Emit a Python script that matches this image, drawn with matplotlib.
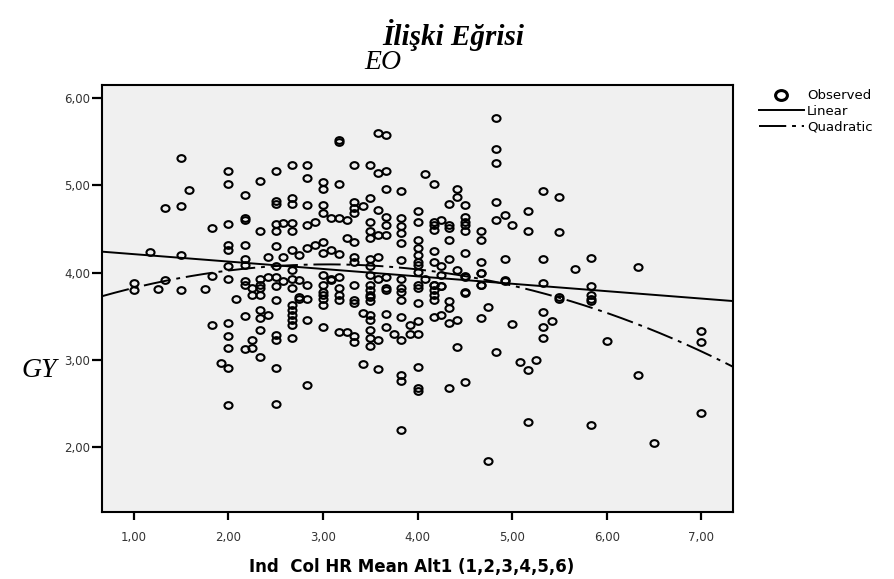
import numpy as np
import matplotlib
matplotlib.use("Agg")
import matplotlib.pyplot as plt
from matplotlib.lines import Line2D
from matplotlib.path import Path
from matplotlib.transforms import Affine2D

# observed points (x = Ind Col HR Mean Alt1, y = GY)
x_upper = [1.50, 2.00, 2.00, 1.58, 2.33, 2.17, 1.33, 1.50, 1.83, 2.00, 2.17, 2.17, 2.33, 1.17, 1.50,
           2.00, 2.00, 2.17, 2.17, 2.17, 2.00, 1.00, 1.00, 1.33, 1.25, 1.50, 1.75, 1.83, 2.00, 2.17,
           2.17, 2.25, 2.25, 2.33, 2.08]
y_upper = [5.31, 5.16, 5.02, 4.95, 5.05, 4.89, 4.74, 4.76, 4.51, 4.56, 4.60, 4.62, 4.48, 4.24, 4.20,
           4.32, 4.26, 4.32, 4.16, 4.09, 4.07, 3.88, 3.80, 3.91, 3.81, 3.80, 3.81, 3.96, 3.93, 3.90,
           3.86, 3.82, 3.74, 3.86, 3.70]

x_center = [3.58, 3.67, 3.17, 3.17, 2.50, 2.67, 2.83, 2.83, 3.33, 3.50, 3.58, 3.67, 3.00, 3.00, 3.17,
            3.67, 3.83, 2.50, 2.50, 2.67, 2.67, 2.83, 3.00, 3.00, 3.33, 3.33, 3.33, 3.50, 3.42, 3.58,
            3.67, 3.67, 3.83, 3.83, 3.83, 4.00, 4.00, 3.08, 3.17, 3.25, 2.92, 2.83, 2.50, 2.58, 2.67,
            2.50, 2.67, 3.50, 3.50, 3.50, 3.58, 3.25, 3.33, 3.67, 3.83, 4.00, 4.00, 2.50, 2.67, 2.83,
            2.92, 3.00, 3.08, 3.17, 3.00, 2.42, 2.58, 2.75, 3.33, 3.33, 3.50, 3.58, 3.83, 4.00, 2.33,
            2.42, 2.50, 2.50, 2.50, 2.58, 2.67, 2.67, 2.67, 2.75, 2.83, 3.00, 3.00, 3.08, 3.17, 3.17,
            3.33, 3.50, 3.50, 3.50, 3.58, 3.67, 3.67, 3.83, 3.83, 4.00, 4.00, 3.00, 3.17, 2.75, 3.50]
y_center = [5.60, 5.58, 5.50, 5.52, 5.16, 5.23, 5.23, 5.08, 5.23, 5.23, 5.14, 5.16, 5.04, 4.96, 5.01,
            4.96, 4.93, 4.82, 4.79, 4.85, 4.79, 4.77, 4.77, 4.68, 4.81, 4.74, 4.68, 4.85, 4.76, 4.72,
            4.64, 4.55, 4.63, 4.53, 4.45, 4.70, 4.58, 4.62, 4.62, 4.60, 4.58, 4.55, 4.56, 4.57, 4.57,
            4.47, 4.47, 4.58, 4.47, 4.39, 4.43, 4.40, 4.35, 4.43, 4.34, 4.37, 4.28, 4.30, 4.26, 4.28,
            4.32, 4.35, 4.26, 4.21, 4.22, 4.18, 4.18, 4.20, 4.18, 4.12, 4.16, 4.18, 4.14, 4.12, 3.93,
            3.95, 4.07, 3.95, 3.84, 3.90, 4.03, 3.93, 3.82, 3.91, 3.86, 3.97, 3.86, 3.93, 3.95, 3.82,
            3.86, 4.07, 3.97, 3.86, 3.93, 3.95, 3.82, 3.93, 3.82, 4.01, 3.86, 3.74, 3.74, 3.72, 3.74]

x_right = [4.83, 4.83, 4.83, 4.08, 4.17, 4.42, 4.42, 4.33, 4.50, 4.83, 4.17, 4.17, 4.17, 4.25, 4.33,
           4.33, 4.50, 4.50, 4.50, 4.50, 4.67, 4.67, 4.83, 4.92, 5.00, 5.17, 5.17, 5.33, 5.50, 5.50,
           4.33, 4.17, 4.50, 4.33, 4.17, 4.25, 4.00, 4.00, 4.67, 4.67, 4.67, 4.42, 4.50, 4.92, 5.33,
           5.67, 4.92, 5.33, 4.08, 4.17, 4.25, 4.50, 5.50, 5.83, 6.33, 5.83, 5.83]
y_right = [5.77, 5.42, 5.25, 5.13, 5.01, 4.96, 4.87, 4.79, 4.77, 4.81, 4.58, 4.55, 4.49, 4.60, 4.55,
           4.51, 4.64, 4.58, 4.55, 4.47, 4.47, 4.37, 4.60, 4.66, 4.55, 4.70, 4.48, 4.93, 4.86, 4.46,
           4.37, 4.25, 4.22, 4.16, 4.12, 4.07, 4.20, 4.09, 4.12, 4.00, 3.86, 4.03, 3.96, 4.16, 4.16,
           4.04, 3.91, 3.88, 3.93, 3.86, 3.84, 3.77, 3.72, 4.17, 4.06, 3.84, 3.74]

x_lower = [2.33, 2.50, 2.33, 2.75, 2.83, 2.67, 2.67, 2.67, 2.67, 2.67, 3.00, 3.00, 3.00, 3.08, 3.17,
           3.33, 3.33, 3.50, 3.50, 3.50, 3.67, 3.83, 3.83, 4.00, 4.00, 2.17, 2.33, 2.33, 2.33, 2.42,
           2.83, 1.83, 2.00, 2.00, 2.00, 2.25, 2.25, 2.17, 2.50, 2.50, 2.67, 3.00, 3.17, 3.25, 3.33,
           3.33, 3.42, 3.50, 3.50, 3.50, 3.50, 3.50, 3.58, 3.67, 3.67, 3.75, 3.83, 3.83, 3.92, 4.00,
           4.00, 3.92, 1.92, 2.00, 2.33, 2.50, 2.83, 3.42, 3.58, 3.83, 3.83, 4.00, 4.00, 4.00, 2.00,
           2.50, 3.83]
y_lower = [3.82, 3.69, 3.74, 3.70, 3.70, 3.63, 3.57, 3.51, 3.46, 3.40, 3.78, 3.70, 3.63, 3.91, 3.69,
           3.69, 3.65, 3.80, 3.72, 3.67, 3.80, 3.78, 3.69, 3.82, 3.65, 3.50, 3.57, 3.48, 3.34, 3.51,
           3.45, 3.40, 3.42, 3.27, 3.13, 3.23, 3.14, 3.12, 3.28, 3.23, 3.25, 3.38, 3.32, 3.32, 3.27,
           3.20, 3.54, 3.51, 3.46, 3.34, 3.25, 3.16, 3.23, 3.53, 3.38, 3.30, 3.49, 3.23, 3.30, 3.30,
           3.44, 3.40, 2.96, 2.90, 3.03, 2.91, 2.71, 2.95, 2.89, 2.83, 2.76, 2.92, 2.68, 2.64, 2.48,
           2.49, 2.20]

x_tail = [4.17, 4.17, 4.17, 4.17, 4.25, 4.25, 4.33, 4.33, 4.33, 4.42, 4.17, 4.25, 4.50, 4.50, 4.67,
          4.67, 4.75, 4.67, 4.42, 4.33, 4.50, 4.83, 4.92, 5.00, 5.08, 5.17, 5.25, 5.33, 5.42, 5.33,
          5.33, 5.50, 5.83, 5.83, 6.00, 6.33, 7.00, 7.00, 5.17, 5.83, 6.50, 7.00, 4.75]
y_tail = [3.86, 3.80, 3.74, 3.69, 3.97, 3.84, 3.67, 3.59, 3.42, 3.46, 3.49, 3.51, 3.95, 3.78, 3.99,
          3.86, 3.61, 3.48, 3.15, 2.68, 2.74, 3.09, 3.90, 3.41, 2.97, 2.88, 3.00, 3.55, 3.44, 3.38,
          3.25, 3.70, 3.70, 3.67, 3.21, 2.83, 3.33, 3.20, 2.29, 2.25, 2.05, 2.39, 1.84]

# fitted curves, coefficients
linear_coef = [4.295, -0.0848]          # b0, b1
quad_coef = [3.498, 0.390, -0.0639]     # b0, b1, b2

x_ticks = [1, 2, 3, 4, 5, 6, 7]
y_ticks = [2, 3, 4, 5, 6]

xs = np.concatenate([x_upper, x_center, x_right, x_lower, x_tail])
ys = np.concatenate([y_upper, y_center, y_right, y_lower, y_tail])

# the source picture is a bit stretched sideways, so the circles are ovals
oval = Path.unit_circle().transformed(Affine2D().scale(1.2, 1.0))
quad_style = (0, (14, 3, 2, 3))

fig = plt.figure(figsize=(8.95, 5.79), dpi=100)
ax = fig.add_axes([0.1145, 0.1157, 0.7041, 0.7375])
ax.set_facecolor("#f0f0f0")

x0, x1 = 0.667, 7.333
ax.plot(xs, ys, linestyle="none", marker=oval, ms=5.8, mfc="none", mec="black", mew=1.5,
        zorder=3)

xf = np.linspace(x0, x1, 200)
ax.plot(xf, linear_coef[0] + linear_coef[1] * xf, color="black", lw=1.4, zorder=2)
ax.plot(xf, quad_coef[0] + quad_coef[1] * xf + quad_coef[2] * xf ** 2, color="black", lw=1.4,
        linestyle=quad_style, zorder=2)

ax.set_xlim(x0, x1)
ax.set_ylim(1.255, 6.149)
ax.set_xticks(x_ticks)
ax.set_yticks(y_ticks)
ax.set_xticklabels([f"{v:.2f}".replace(".", ",") for v in x_ticks], fontsize=8.5,
                   family="DejaVu Sans", color="#333333")
ax.set_yticklabels([f"{v:.2f}".replace(".", ",") for v in y_ticks], fontsize=8.5,
                   family="DejaVu Sans", color="#333333")
ax.tick_params(axis="x", direction="out", length=6, width=1.6, pad=8)
ax.tick_params(axis="y", direction="out", length=7.5, width=1.6, pad=1.5)
for s in ax.spines.values():
    s.set_linewidth(1.5)

ax.set_xlabel("Ind  Col HR Mean Alt1 (1,2,3,4,5,6)", fontsize=12, fontweight="bold",
              family="DejaVu Sans", va="center")
ax.xaxis.set_label_coords(0.49, -0.129)

fig.text(0.506, 0.94, "İlişki Eğrisi", ha="center", va="center", fontsize=21,
         family="Liberation Serif", fontweight="bold", style="italic")
fig.text(0.428, 0.892, "EO", ha="center", va="center", fontsize=20,
         family="Liberation Serif", style="italic")
fig.text(0.044, 0.36, "GY", ha="center", va="center", fontsize=20,
         family="Liberation Serif", style="italic")

handles = [
    Line2D([], [], linestyle="none", marker=oval, ms=8.5, mfc="none", mec="black", mew=2.2),
    Line2D([], [], color="black", lw=1.4),
    Line2D([], [], color="black", lw=1.4, linestyle=quad_style),
]
fig.legend(handles, ["Observed", "Linear", "Quadratic"], loc="upper left",
           bbox_to_anchor=(0.848, 0.846), frameon=False, borderpad=0, borderaxespad=0,
           handlelength=3.4, handletextpad=0.25, labelspacing=0.2,
           prop={"family": "DejaVu Sans", "size": 9.5})

fig.savefig("out.png", dpi=100)
